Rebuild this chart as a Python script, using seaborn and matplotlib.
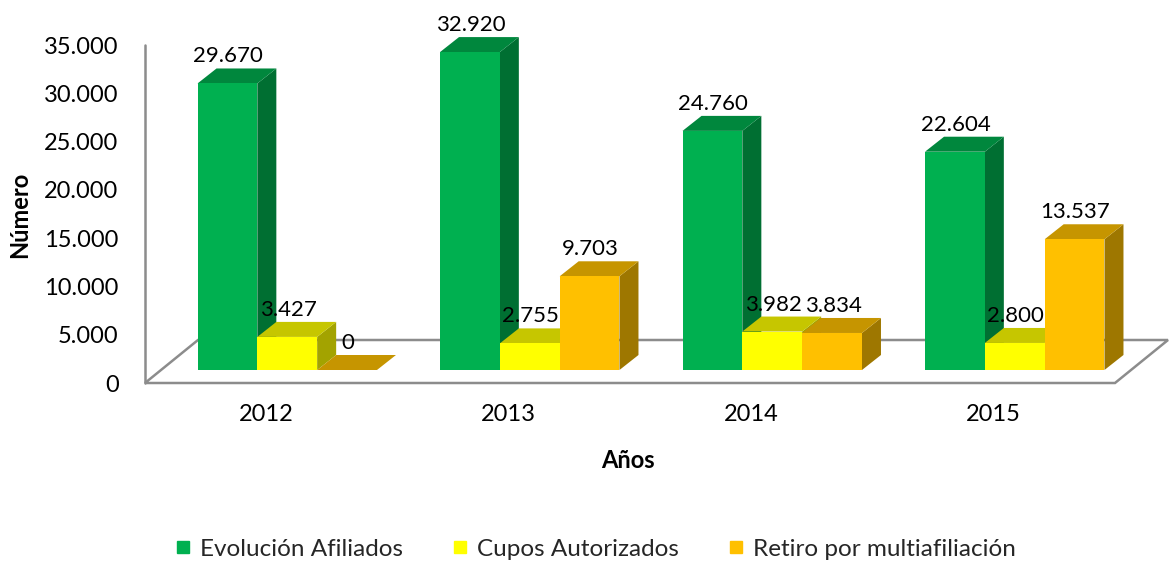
import matplotlib
matplotlib.use("Agg")
import matplotlib.pyplot as plt
from matplotlib.patches import Polygon
from matplotlib.lines import Line2D
import pandas as pd
import seaborn as sns

# ---------------------------
# datos
# ---------------------------
years = ["2012", "2013", "2014", "2015"]
series = ["Evolución Afiliados", "Cupos Autorizados", "Retiro por multiafiliación"]
afiliados = [29670, 32920, 24760, 22604]
cupos = [3427, 2755, 3982, 2800]
retiro = [0, 9703, 3834, 13537]

front_colors = ["#00B050", "#FFFF00", "#FFC000"]
top_colors = ["#00873D", "#C6C600", "#C69500"]
side_colors = ["#006F32", "#A3A300", "#9E7700"]

df = pd.DataFrame({
    "Año": years * 3,
    "Serie": [s for s in series for _ in years],
    "Valor": afiliados + cupos + retiro,
})

sns.set_theme(style="white")
plt.rcParams["font.family"] = ["Lato", "DejaVu Sans"]

FS = 17

W, H = 1169, 561
fig = plt.figure(figsize=(W / 100, H / 100), dpi=100)
ax_w, ax_h = 970, 338
ax = fig.add_axes([145 / W, 178 / H, ax_w / W, ax_h / H])

sns.barplot(
    data=df, x="Año", y="Valor", hue="Serie",
    palette=front_colors, saturation=1, width=0.74,
    linewidth=0, legend=False, ax=ax,
)

ax.set_xlim(-0.5, 3.5)
ax.set_ylim(0, 35000)

# pixel -> unidades de datos
px2x = 4 / ax_w
px2y = 35000 / ax_h

# piso y pared
gray = "#8C8C8C"
fdx, fdy = 53 * px2x, 43 * px2y
floor = Polygon(
    [(-0.5, 0), (3.5, 0), (3.5 + fdx, fdy), (-0.5 + fdx, fdy)],
    closed=True, fill=False, edgecolor=gray, linewidth=1.8,
    clip_on=False, zorder=1,
)
ax.add_patch(floor)
ax.plot([-0.5, -0.5], [0, 35000], color=gray, lw=1.8, clip_on=False, zorder=1)

# barras en 3D
ox, oy = 21 * px2x, 13 * px2y
ddx, ddy = 19 * px2x, 15 * px2y

bars = []
for hi, cont in enumerate(ax.containers):
    for p in cont.patches:
        bars.append((p.get_x(), hi, p))
bars.sort(key=lambda b: b[0])

for i, (_, hi, p) in enumerate(bars):
    z = 3 + i * 0.01
    x0 = p.get_x() + ox
    w = p.get_width()
    h = p.get_height()
    x1 = x0 + w
    y0 = oy
    y1 = oy + h

    side = Polygon(
        [(x1, y0), (x1 + ddx, y0 + ddy), (x1 + ddx, y1 + ddy), (x1, y1)],
        closed=True, facecolor=side_colors[hi], edgecolor="none",
        clip_on=False, zorder=z,
    )
    top = Polygon(
        [(x0, y1), (x1, y1), (x1 + ddx, y1 + ddy), (x0 + ddx, y1 + ddy)],
        closed=True, facecolor=top_colors[hi], edgecolor="none",
        clip_on=False, zorder=z + 0.001,
    )
    ax.add_patch(side)
    ax.add_patch(top)

    p.set_x(x0)
    p.set_y(y0)
    p.set_zorder(z + 0.002)
    p.set_clip_on(False)

    ax.text(
        x0 + w / 2 + 1 * px2x, y1 + 27 * px2y,
        f"{int(h):,}".replace(",", "."),
        ha="center", va="center", fontsize=16, color="black",
        zorder=10, clip_on=False,
    )

# ejes
ax.set_yticks(range(0, 35001, 5000))
ax.set_yticklabels([f"{v:,}".replace(",", ".") for v in range(0, 35001, 5000)])
ax.tick_params(axis="y", length=0, pad=19, labelsize=FS, labelcolor="black")
ax.tick_params(axis="x", length=0, pad=15, labelsize=FS, labelcolor="black")
ax.set_xlabel("")
ax.set_ylabel("")
for s in ax.spines.values():
    s.set_visible(False)
ax.grid(False)

fig.text(20 / W, 1 - 215 / H, "Número", rotation=90, ha="center", va="center",
         fontsize=FS, fontweight="bold", color="black")
fig.text(628 / W, 1 - 461 / H, "Años", ha="center", va="center",
         fontsize=FS, fontweight="bold", color="black")

handles = [
    Line2D([], [], marker="s", linestyle="", markersize=9,
           markerfacecolor=c, markeredgecolor=c)
    for c in front_colors
]
fig.legend(
    handles, series, loc="center", bbox_to_anchor=(595 / W, 1 - 549 / H),
    ncol=3, frameon=False, fontsize=17.5, handlelength=0.7,
    handletextpad=0.35, columnspacing=2.0,
)

fig.savefig("out.png", dpi=100)
